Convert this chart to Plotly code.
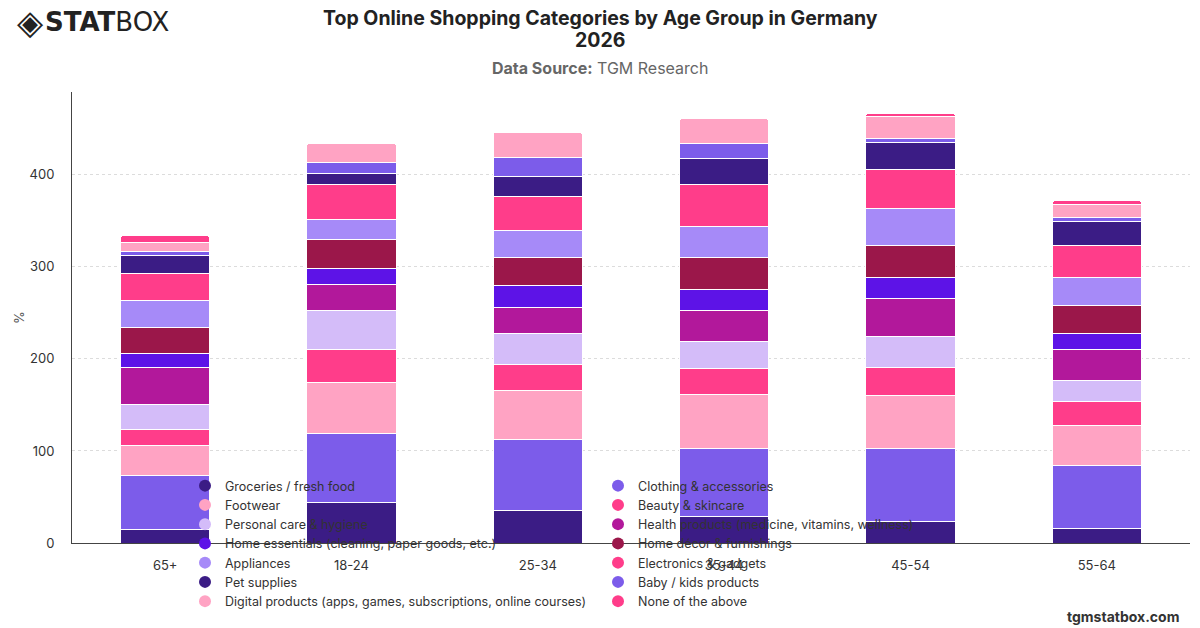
import plotly.graph_objects as go

age_groups = ["65+", "18-24", "25-34", "35-44", "45-54", "55-64"]

categories = [
    "Groceries / fresh food",
    "Clothing & accessories",
    "Footwear",
    "Beauty & skincare",
    "Personal care & hygiene",
    "Health products (medicine, vitamins, wellness)",
    "Home essentials (cleaning, paper goods, etc.)",
    "Home décor & furnishings",
    "Appliances",
    "Electronics & gadgets",
    "Pet supplies",
    "Baby / kids products",
    "Digital products (apps, games, subscriptions, online courses)",
    "None of the above",
]

groceries = [15, 44, 35, 29, 23, 16]
clothing = [58, 75, 77, 74, 80, 68]
footwear = [33, 55, 54, 58, 57, 44]
beauty = [17, 36, 28, 29, 31, 26]
personal_care = [28, 43, 34, 29, 33, 23]
health = [40, 28, 28, 34, 42, 33]
home_essentials = [15, 17, 24, 22, 22, 18]
home_decor = [28, 32, 30, 35, 35, 30]
appliances = [29, 21, 30, 34, 40, 30]
electronics = [30, 38, 36, 45, 43, 35]
pet_supplies = [19, 13, 22, 29, 29, 26]
baby_kids = [5, 11, 21, 16, 5, 5]
digital = [10, 21, 27, 27, 23, 14]
none_above = [7, 1, 0, 0, 4, 4]

series = [groceries, clothing, footwear, beauty, personal_care, health,
          home_essentials, home_decor, appliances, electronics, pet_supplies,
          baby_kids, digital, none_above]

colors = ["#3b1c85", "#7c5cea", "#ffa3c3", "#ff3d8a", "#d4bcf9", "#b2189b",
          "#5d13e7", "#9b174a", "#a68af8", "#ff3d8a", "#3b1c85", "#7c5cea",
          "#ffa3c3", "#ff3d8a"]

W, H = 1200, 628
L, R, T, B = 72, 10, 92, 85
PW, PH = W - L - R, H - T - B


def px(x):
    return (x - L) / PW


def py(y):
    return (H - B - y) / PH


fig = go.Figure()
for name, vals, col in zip(categories, series, colors):
    fig.add_trace(go.Bar(
        x=age_groups, y=vals, name=name, showlegend=False,
        marker=dict(color=col, line=dict(color="white", width=1)),
    ))
for name, col in zip(categories, colors):
    fig.add_trace(go.Scatter(
        x=[None], y=[None], mode="markers", name=name,
        marker=dict(symbol="circle", size=14, color=col),
    ))

fig.update_layout(
    width=W, height=H,
    barmode="stack", bargap=0.52, barcornerradius=3,
    plot_bgcolor="white", paper_bgcolor="white",
    margin=dict(l=L, r=R, t=T, b=B, autoexpand=False),
    font=dict(family="Inter, Roboto, sans-serif", size=13, color="#333333"),
    legend=dict(
        orientation="h", x=px(185), xanchor="left", y=py(471), yanchor="top",
        bgcolor="rgba(0,0,0,0)", entrywidth=368, entrywidthmode="pixels",
        font=dict(size=12.5, color="#333333"), traceorder="normal",
        itemsizing="constant",
    ),
    xaxis=dict(
        showline=True, linecolor="#444444", linewidth=1, automargin=False,
        showgrid=False, ticks="", ticklabelstandoff=10,
        tickfont=dict(size=13, color="#333333"),
    ),
    yaxis=dict(
        range=[0, 490], dtick=100, showline=True, linecolor="#444444",
        linewidth=1, showgrid=True, gridcolor="#dcdcdc", griddash="dot",
        zeroline=False, ticks="", ticklabelstandoff=14, automargin=False,
        tickfont=dict(size=13, color="#333333"),
        title=dict(text="%", font=dict(size=13, color="#555555"), standoff=2),
    ),
    annotations=[
        dict(text="<b>Top Online Shopping Categories by Age Group in Germany</b>",
             xref="paper", yref="paper", x=px(600), y=py(18),
             xanchor="center", yanchor="middle", showarrow=False,
             font=dict(size=19.5, color="#222222")),
        dict(text="<b>2026</b>",
             xref="paper", yref="paper", x=px(600), y=py(40),
             xanchor="center", yanchor="middle", showarrow=False,
             font=dict(size=19.5, color="#222222")),
        dict(text="<b>Data Source:</b> TGM Research", xref="paper", yref="paper",
             x=px(600), y=py(68), xanchor="center", yanchor="middle",
             showarrow=False, font=dict(size=16, color="#666666")),
        dict(text="◈", xref="paper", yref="paper",
             x=px(15), y=py(22), xanchor="left", yanchor="middle",
             showarrow=False, font=dict(size=34, color="#222222",
                                        family="DejaVu Sans, sans-serif")),
        dict(text="<b>STAT</b>BOX", xref="paper", yref="paper",
             x=px(43), y=py(22), xanchor="left", yanchor="middle",
             showarrow=False, font=dict(size=26, color="#222222",
                                        family="DejaVu Sans, sans-serif")),
        dict(text="<b>tgmstatbox.com</b>", xref="paper", yref="paper",
             x=px(1181), y=py(616), xanchor="right", yanchor="middle",
             showarrow=False, font=dict(size=14, color="#333333")),
    ],
)

fig.write_html("out.html")
